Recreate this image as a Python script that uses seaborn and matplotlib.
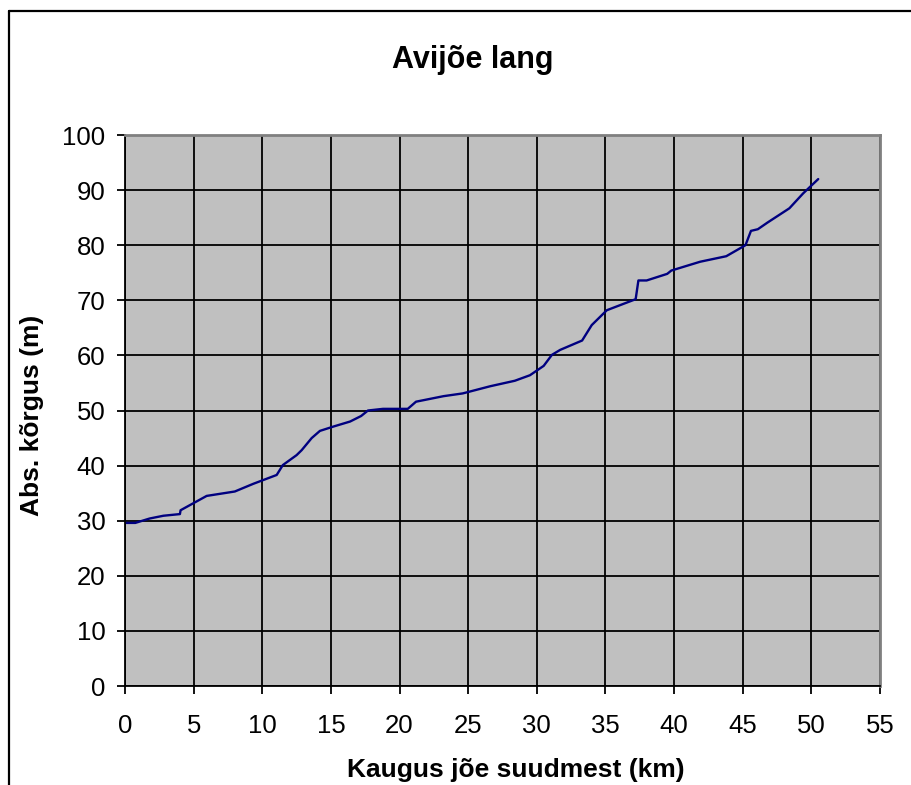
"""Avijõe pikiprofiil."""

import matplotlib
matplotlib.use("Agg")
import matplotlib.pyplot as plt
from matplotlib.lines import Line2D
import pandas as pd
import seaborn as sns

# kaugus suudmest (km) ja absoluutne kõrgus (m)
kaugus_km = [0, 0.75, 1.8, 2.8, 4.0, 4.05, 5.95, 8.0, 9.35, 11.05, 11.5, 12.5,
             12.87, 13.6, 14.2, 15.2, 16.4, 17.2, 17.7, 18.8, 20.6, 21.2, 23.2,
             24.6, 26.6, 28.4, 29.5, 30.5, 31.1, 31.7, 33.3, 34.0, 35.1, 37.2,
             37.4, 38.0, 39.5, 39.8, 41.9, 43.8, 45.2, 45.6, 46.1, 46.8, 48.4,
             49.4, 50.5]
korgus_m = [29.6, 29.6, 30.4, 30.9, 31.2, 31.9, 34.5, 35.3, 36.7, 38.3, 40.1,
            41.9, 42.8, 45.0, 46.3, 47.1, 48.0, 49.0, 50.0, 50.3, 50.3, 51.6,
            52.6, 53.1, 54.4, 55.4, 56.4, 58.1, 60.1, 61.0, 62.7, 65.5, 68.2,
            70.2, 73.6, 73.6, 74.8, 75.4, 77.0, 78.0, 80.0, 82.6, 82.9, 84.1,
            86.7, 89.4, 92.0]
x_ticks = list(range(0, 56, 5))
y_ticks = list(range(0, 101, 10))

df = pd.DataFrame({"km": kaugus_km, "m": korgus_m})

sns.set_theme(style="white")
plt.rcParams["font.family"] = ["Liberation Sans", "DejaVu Sans"]
plt.rcParams["text.color"] = "black"
plt.rcParams["xtick.color"] = "black"
plt.rcParams["ytick.color"] = "black"

W, H = 911, 785
fig = plt.figure(figsize=(W / 100, H / 100), dpi=100)
ax = fig.add_axes([125 / W, 1 - 686 / H, (880 - 125) / W, (686 - 135) / H])
ax.set_facecolor("#C0C0C0")

sns.lineplot(data=df, x="km", y="m", ax=ax, sort=False, estimator=None,
             color="#000080", linewidth=1.7)

ax.set_xlim(0, 55)
ax.set_ylim(0, 100)
ax.set_xticks(x_ticks)
ax.set_yticks(y_ticks)
ax.grid(True, color="black", linewidth=1.3)
ax.set_axisbelow(True)
ax.tick_params(axis="both", labelsize=18.5, direction="out", length=6, width=1.3,
               color="black", labelcolor="black", left=True, bottom=True, pad=8)
ax.tick_params(axis="x", pad=14)
for side in ("left", "bottom"):
    ax.spines[side].set_color("black")
    ax.spines[side].set_linewidth(1.3)
for side in ("top", "right"):
    ax.spines[side].set_color("#808080")
    ax.spines[side].set_linewidth(2)
ax.set_xlabel("")
ax.set_ylabel("")

fig.text(473 / W, 1 - 60 / H, "Avijõe lang", ha="center", va="center",
         fontsize=22, fontweight="bold", color="black")
fig.text(516 / W, 1 - 770 / H, "Kaugus jõe suudmest (km)", ha="center",
         va="center", fontsize=19, fontweight="bold", color="black")
fig.text(32 / W, 1 - 415 / H, "Abs. kõrgus (m)", ha="center", va="center",
         rotation=90, fontsize=19, fontweight="bold", color="black")

# diagrammi raam (parem ja alumine serv jäävad pildist välja)
fig.add_artist(Line2D([9 / W, 9 / W], [0, 1 - 11 / H], color="black",
                      linewidth=1.6, transform=fig.transFigure))
fig.add_artist(Line2D([9 / W, 1], [1 - 11 / H, 1 - 11 / H], color="black",
                      linewidth=1.6, transform=fig.transFigure))

fig.savefig("out.png", dpi=100)
